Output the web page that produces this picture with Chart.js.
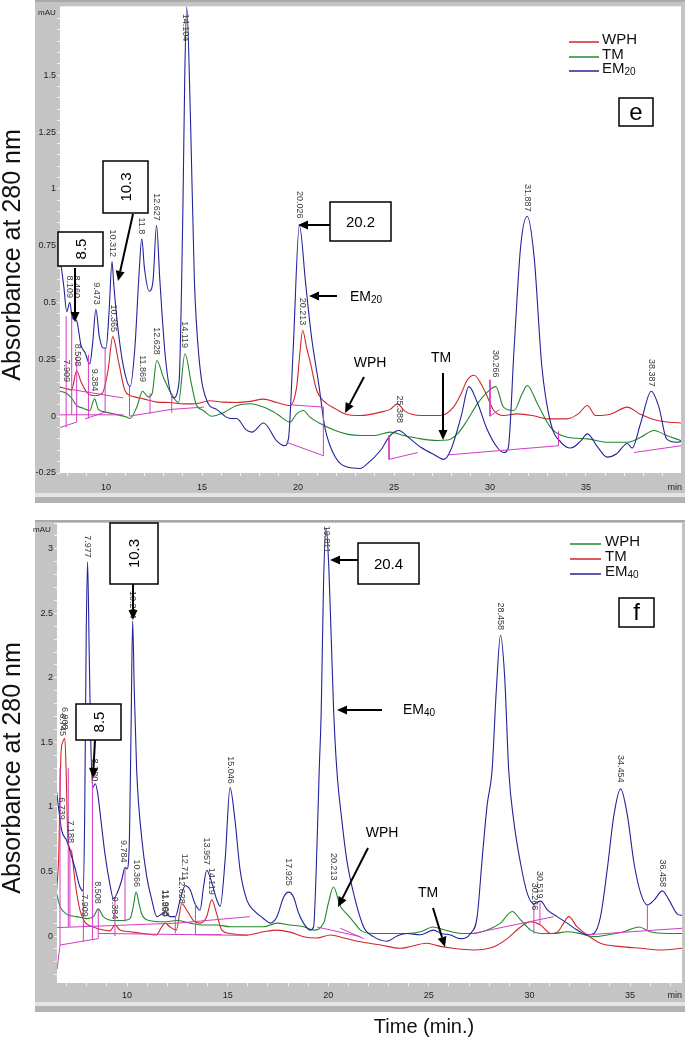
<!DOCTYPE html>
<html>
<head>
<meta charset="utf-8">
<script src="https://cdn.jsdelivr.net/npm/chart.js@4.4.0/dist/chart.umd.min.js"></script>
<style>
  html, body { margin: 0; padding: 0; background: #fff; }
  canvas { position: absolute; left: 0; }
  #cE { top: 0; width: 685px; height: 510px; }
  #cF { top: 510px; width: 685px; height: 537px; }
</style>
</head>
<body>
<canvas id="cE" width="685" height="510"></canvas>
<canvas id="cF" width="685" height="537"></canvas>
<script>
// ---------- panel e ----------
const seriesE = ['WPH', 'TM', 'EM20'];

const wphE_t = [7.6, 8.0, 8.2, 8.47, 8.7, 9.0, 9.43, 9.8, 10.1, 10.35, 10.65, 11.0, 11.5, 11.94, 12.64, 13.3, 14.03, 14.7, 15.4, 16.1, 16.8, 17.5, 18.2, 18.9, 19.58, 19.93, 20.1, 20.24, 20.45, 20.63, 20.97, 21.3, 22.0, 22.45, 23.26, 24.3, 24.8, 25.17, 25.6, 26.4, 27.4, 28.1, 28.5, 28.8, 29.17, 29.7, 30.2, 30.7, 31.4, 32.2, 33.0, 34.0, 34.6, 35.07, 35.5, 36.3, 37.15, 37.8, 38.8, 39.95];
const wphE_v = [0.128, 0.12, 0.115, 0.2, 0.15, 0.105, 0.09, 0.1, 0.2, 0.35, 0.24, 0.11, 0.085, 0.076, 0.062, 0.06, 0.054, 0.055, 0.068, 0.062, 0.06, 0.065, 0.075, 0.06, 0.047, 0.13, 0.28, 0.378, 0.3, 0.24, 0.114, 0.07, 0.03, 0.01, 0.003, 0.018, 0.03, 0.054, 0.02, 0.003, 0.003, 0.04, 0.1, 0.157, 0.18, 0.115, 0.025, 0.003, 0.01, 0.003, -0.012, -0.012, 0.01, 0.047, 0.003, 0.01, 0.04, 0.01, -0.02, -0.03];

const tmE_t = [7.6, 7.95, 8.2, 8.47, 8.8, 9.15, 9.4, 9.6, 10.0, 10.5, 11.07, 11.25, 11.6, 11.9, 12.2, 12.4, 12.64, 12.99, 13.33, 13.77, 14.11, 14.45, 14.7, 15.07, 15.5, 16.1, 16.8, 17.5, 18.2, 18.9, 19.58, 19.93, 20.28, 20.6, 21.1, 21.94, 22.6, 23.3, 24.0, 24.8, 25.5, 26.4, 27.26, 27.8, 28.3, 28.8, 29.34, 29.86, 30.3, 30.7, 31.25, 31.68, 31.94, 32.47, 33.16, 34.03, 35.07, 36.1, 37.15, 37.85, 38.54, 39.2, 39.95];
const tmE_v = [0.11, 0.1, 0.08, 0.047, 0.035, 0.025, 0.076, 0.03, 0.018, 0.008, -0.004, -0.01, 0.04, 0.11, 0.085, 0.1, 0.245, 0.17, 0.11, 0.06, 0.275, 0.14, 0.05, 0.025, 0.0, 0.015, 0.047, 0.055, 0.04, 0.01, -0.026, 0.01, 0.025, -0.003, -0.03, -0.063, -0.08, -0.085, -0.085, -0.07, -0.085, -0.1, -0.107, -0.105, -0.078, -0.02, 0.054, 0.106, 0.13, 0.04, 0.025, 0.1, 0.135, 0.055, -0.05, -0.093, -0.1, -0.115, -0.115, -0.093, -0.063, -0.085, -0.107];

const emE_t = [7.6, 7.8, 7.95, 8.11, 8.25, 8.46, 8.7, 8.9, 9.15, 9.3, 9.47, 9.65, 9.85, 10.0, 10.15, 10.31, 10.4, 10.6, 10.9, 11.25, 11.5, 11.7, 11.86, 12.0, 12.25, 12.45, 12.63, 12.8, 13.1, 13.5, 13.8, 14.0, 14.1, 14.2, 14.4, 14.6, 14.85, 15.24, 15.76, 16.46, 16.8, 17.3, 17.6, 18.2, 18.9, 19.3, 19.5, 19.75, 20.07, 20.4, 20.7, 21.08, 21.4, 21.94, 22.6, 23.23, 23.6, 24.3, 24.8, 25.26, 25.7, 26.4, 27.1, 27.6, 27.95, 28.5, 28.9, 29.34, 29.86, 30.4, 30.73, 30.95, 31.25, 31.6, 31.94, 32.3, 32.7, 33.16, 33.7, 34.2, 34.72, 35.07, 35.6, 36.1, 36.6, 37.15, 37.4, 37.85, 38.4, 38.8, 39.2, 39.75, 39.95];
const emE_v = [0.7, 0.57, 0.46, 0.5, 0.43, 0.42, 0.31, 0.28, 0.23, 0.32, 0.47, 0.35, 0.3, 0.3, 0.45, 0.68, 0.58, 0.4, 0.22, 0.13, 0.3, 0.6, 0.78, 0.65, 0.55, 0.6, 0.84, 0.6, 0.25, 0.08, 0.15, 0.9, 1.5, 1.8, 1.3, 0.6, 0.25, 0.07, 0.03, -0.01, -0.01, -0.06, -0.07, -0.03, -0.11, -0.13, -0.1, 0.3, 0.84, 0.58, 0.35, 0.14, -0.05, -0.18, -0.225, -0.23, -0.21, -0.15, -0.085, -0.063, -0.09, -0.137, -0.17, -0.19, -0.15, 0.0, 0.13, 0.06, -0.06, -0.14, -0.16, -0.14, 0.29, 0.75, 0.88, 0.7, 0.22, -0.03, -0.115, -0.14, -0.11, -0.078, -0.135, -0.18, -0.165, -0.12, -0.14, -0.03, 0.11, 0.04, -0.1, -0.115, -0.11];

// integration baselines (null = break)
const baseE_t = [7.6, 8.47, null, 7.6, 10.9, null, 8.0, 10.9, null, 8.9, 9.95, null, 11.22, 13.4, 15.1, null, 19.41, 21.32, 21.32, null, 19.6, 21.32, null, 24.74, 24.74, 26.23, null, 27.86, 33.57, 33.57, null, 30.0, 30.0, 30.5, null, 37.5, 39.95, null,
  7.92, 7.92, null, 8.21, 8.21, null, 8.47, 8.47, null, 9.08, 9.08, null, 9.95, 9.95, null, 11.22, 11.22, null, 12.29, 12.29, null, 13.42, 13.42];
const baseE_v = [-0.05, -0.026, null, 0.006, 0.006, null, 0.12, 0.08, null, -0.012, 0.018, null, 0.0, 0.03, 0.04, null, -0.115, -0.174, 0.04, null, 0.05, 0.04, null, -0.085, -0.19, -0.16, null, -0.17, -0.13, -0.065, null, 0.16, 0.0, 0.03, null, -0.16, -0.13, null,
  -0.05, 0.44, null, 0.006, 0.44, null, -0.026, 0.26, null, -0.01, 0.27, null, 0.018, 0.3, null, 0.0, 0.13, null, 0.01, 0.1, null, 0.015, 0.1];

const peaksE_txt = ['7.909', '8.109', '8.460', '8.508', '9.384', '9.473', '10.312', '10.365', '11.8', '11.869', '12.627', '12.628', '14.104', '14.119', '20.026', '20.213', '25.388', '30.266', '31.887', '38.387'];
const peaksE_t = [7.92, 8.11, 8.46, 8.53, 9.40, 9.48, 10.32, 10.37, 11.86, 11.9, 12.63, 12.64, 14.12, 14.1, 20.07, 20.24, 25.26, 30.3, 31.94, 38.4];
const peaksE_v = [0.15, 0.52, 0.52, 0.22, 0.11, 0.49, 0.70, 0.37, 0.80, 0.15, 0.86, 0.27, 1.65, 0.30, 0.87, 0.40, -0.03, 0.17, 0.90, 0.13];

const xMajorE = [10, 15, 20, 25, 30, 35];
const yMajorE = [-0.25, 0, 0.25, 0.5, 0.75, 1, 1.25, 1.5];
const yLabelE = ['-0.25', '0', '0.25', '0.5', '0.75', '1', '1.25', '1.5'];

// ---------- panel f ----------
const seriesF = ['WPH', 'TM', 'EM40'];

const wphF_t = [6.5, 6.67, 7.0, 7.5, 8.0, 8.33, 8.57, 8.82, 9.32, 9.8, 10.15, 10.3, 10.45, 10.6, 10.73, 11.1, 11.8, 12.5, 13.13, 13.8, 14.46, 15.12, 15.95, 16.78, 17.45, 18.1, 18.77, 19.27, 19.77, 20.0, 20.26, 20.6, 20.93, 21.26, 21.6, 22.25, 23.0, 23.9, 24.6, 25.2, 25.8, 26.6, 27.2, 27.9, 28.56, 29.14, 29.56, 30.05, 30.55, 31.2, 31.87, 32.5, 33.2, 33.86, 34.7, 35.44, 36.0, 36.85, 37.6];
const wphF_v = [0.33, 0.23, 0.17, 0.15, 0.135, 0.15, 0.21, 0.15, 0.12, 0.12, 0.135, 0.22, 0.34, 0.25, 0.17, 0.12, 0.11, 0.12, 0.1, 0.085, 0.085, 0.072, 0.072, 0.072, 0.1, 0.085, 0.072, 0.046, 0.1, 0.25, 0.38, 0.23, 0.17, 0.11, 0.046, 0.02, 0.02, 0.02, 0.033, 0.07, 0.046, 0.02, 0.02, 0.046, 0.1, 0.19, 0.125, 0.046, 0.02, 0.02, 0.033, 0.02, -0.005, 0.008, 0.033, 0.07, 0.033, 0.02, 0.02];

const tmF_t = [6.5, 6.6, 6.72, 6.8, 6.91, 6.97, 7.05, 7.15, 7.25, 7.41, 7.66, 7.9, 8.33, 8.82, 9.15, 9.4, 9.65, 10.15, 10.8, 11.45, 11.72, 11.89, 12.14, 12.45, 12.72, 12.97, 13.3, 13.63, 13.96, 14.21, 14.46, 14.71, 15.12, 15.95, 16.78, 17.45, 18.1, 18.77, 19.44, 20.1, 20.77, 21.6, 22.6, 23.58, 24.9, 25.57, 26.2, 27.2, 28.2, 28.9, 29.56, 30.05, 30.55, 31.05, 31.38, 31.7, 31.95, 32.37, 32.87, 33.53, 34.53, 35.53, 36.53, 37.6];
const tmF_v = [0.35, 0.6, 1.42, 1.5, 1.53, 1.3, 0.8, 0.68, 0.65, 0.43, 0.2, 0.11, 0.07, 0.046, 0.04, 0.085, 0.046, 0.033, 0.02, 0.008, 0.07, 0.1, 0.07, 0.046, 0.25, 0.2, 0.12, 0.1, 0.15, 0.28, 0.17, 0.046, 0.02, 0.008, 0.033, 0.046, 0.03, -0.005, -0.015, 0.008, -0.015, -0.045, -0.07, -0.095, -0.056, -0.08, -0.095, -0.108, -0.085, -0.02, 0.07, 0.11, 0.085, 0.02, 0.03, 0.1, 0.15, 0.07, 0.008, -0.056, -0.082, -0.095, -0.108, -0.095];

const emF_t = [6.5, 6.75, 7.0, 7.16, 7.41, 7.66, 7.83, 7.9, 7.97, 8.04, 8.12, 8.2, 8.3, 8.42, 8.55, 8.65, 8.9, 9.15, 9.32, 9.5, 9.73, 9.9, 10.0, 10.12, 10.2, 10.28, 10.36, 10.48, 10.73, 10.98, 11.23, 11.48, 11.72, 11.89, 12.14, 12.4, 12.64, 12.89, 13.13, 13.38, 13.63, 13.8, 13.96, 14.2, 14.46, 14.63, 14.88, 15.12, 15.37, 15.62, 15.95, 16.29, 16.78, 17.11, 17.45, 17.78, 18.03, 18.28, 18.52, 18.77, 19.1, 19.27, 19.4, 19.55, 19.65, 19.77, 19.9, 20.03, 20.15, 20.27, 20.43, 20.68, 20.93, 21.26, 21.76, 22.25, 22.92, 23.42, 23.9, 24.57, 25.24, 25.6, 26.07, 26.57, 27.07, 27.4, 27.65, 27.9, 28.14, 28.35, 28.56, 28.77, 28.97, 29.22, 29.56, 29.89, 30.22, 30.55, 30.9, 31.38, 31.87, 32.37, 32.87, 33.2, 33.53, 33.86, 34.2, 34.53, 34.86, 35.2, 35.53, 35.86, 36.2, 36.6, 36.93, 37.35, 37.6];
const emF_v = [1.12, 0.82, 0.74, 0.66, 0.53, 0.38, 0.35, 1.0, 2.3, 2.9, 2.2, 1.5, 1.15, 1.18, 1.1, 0.97, 0.64, 0.4, 0.29, 0.33, 0.43, 0.53, 0.52, 0.76, 1.6, 2.44, 1.9, 1.28, 0.76, 0.46, 0.28, 0.15, 0.17, 0.19, 0.15, 0.15, 0.28, 0.39, 0.36, 0.25, 0.2, 0.38, 0.51, 0.42, 0.28, 0.23, 0.6, 1.15, 0.89, 0.51, 0.28, 0.2, 0.136, 0.1, 0.15, 0.3, 0.34, 0.3, 0.18, 0.1, 0.046, 0.07, 0.5, 1.28, 1.74, 2.76, 3.16, 2.85, 2.3, 1.74, 1.28, 0.89, 0.58, 0.33, 0.07, -0.005, -0.04, 0.0, 0.02, 0.01, 0.046, 0.02, 0.008, -0.02, 0.02, 0.15, 0.6, 1.02, 1.28, 1.9, 2.33, 2.0, 1.28, 0.89, 0.56, 0.33, 0.25, 0.27, 0.2, 0.15, 0.1, 0.046, 0.01, 0.02, 0.15, 0.51, 0.94, 1.14, 0.94, 0.56, 0.33, 0.24, 0.28, 0.35, 0.28, 0.17, 0.16];

const baseF_t = [6.52, 6.67, 8.57, null, 6.52, 12.5, 16.1, null, 8.57, 16.0, null, 13.4, 14.7, null, 19.44, 21.6, null, 20.6, 21.76, null, 27.2, 31.2, null, 32.9, 37.58, null,
  6.67, 6.67, null, 7.08, 7.08, null, 7.16, 7.16, null, 7.83, 7.83, null, 8.28, 8.28, null, 8.57, 8.57, null, 9.4, 9.4, null, 9.9, 9.9, null, 12.4, 12.4, null, 13.4, 13.4, null, 30.22, 30.22, null, 30.52, 30.52, null, 35.86, 35.86];
const baseF_v = [-0.26, -0.07, -0.02, null, 0.065, 0.1, 0.15, null, 0.02, 0.005, null, 0.01, 0.01, null, 0.07, -0.005, null, 0.06, -0.02, null, 0.02, 0.15, null, 0.01, 0.06, null,
  -0.07, 1.3, null, 0.07, 1.3, null, 0.07, 0.66, null, -0.04, 0.35, null, -0.03, 1.25, null, -0.02, 0.21, null, 0.0, 0.3, null, 0.11, 0.53, null, 0.02, 0.15, null, 0.01, 0.25, null, 0.02, 0.25, null, 0.09, 0.26, null, 0.05, 0.24];

const peaksF_txt = ['6.739', '6.745', '6.908', '7.188', '7.909', '7.977', '8.380', '8.508', '9.384', '9.784', '10.284', '10.366', '11.869', '11.903', '12.628', '12.711', '13.957', '14.119', '15.046', '17.925', '19.811', '20.213', '28.458', '30.266', '30.519', '34.454', '36.458'];
const peaksF_t = [6.74, 6.78, 6.91, 7.19, 7.88, 8.03, 8.40, 8.55, 9.40, 9.80, 10.28, 10.45, 11.85, 11.92, 12.70, 12.85, 13.96, 14.2, 15.12, 18.03, 19.92, 20.26, 28.56, 30.25, 30.5, 34.53, 36.6];
const peaksF_v = [0.9, 1.55, 1.6, 0.72, 0.15, 2.93, 1.2, 0.25, 0.13, 0.57, 2.46, 0.38, 0.15, 0.15, 0.25, 0.43, 0.55, 0.32, 1.18, 0.39, 2.97, 0.43, 2.37, 0.2, 0.29, 1.19, 0.38];

const xMajorF = [10, 15, 20, 25, 30, 35];
const yMajorF = [0, 0.5, 1, 1.5, 2, 2.5, 3];
const yLabelF = ['0', '0.5', '1', '1.5', '2', '2.5', '3'];

// ---------- drawing helpers ----------
const FONT = '"Liberation Sans", Arial, sans-serif';
const RED = '#d0262a', GREEN = '#21882a', BLUE = '#23239a', MAGENTA = '#d23cc4';

const pts = (ts, vs) => ts.map((t, i) => ({ x: t, y: vs[i] }));
const gapPts = (ts, vs) => ts.map((t, i) => t === null ? { x: ts[i - 1], y: null } : { x: t, y: vs[i] });

function range(a, b, step) {
  const out = [];
  for (let i = Math.round(a / step); i <= Math.round(b / step); i++) out.push(Math.round(i * step * 1000) / 1000);
  return out;
}

function arrow(ctx, x1, y1, x2, y2) {
  const ang = Math.atan2(y2 - y1, x2 - x1), L = 10, W = 4.5;
  const bx = x2 - L * Math.cos(ang), by = y2 - L * Math.sin(ang);
  ctx.strokeStyle = '#000'; ctx.fillStyle = '#000'; ctx.lineWidth = 2;
  ctx.beginPath(); ctx.moveTo(x1, y1); ctx.lineTo(bx, by); ctx.stroke();
  ctx.beginPath();
  ctx.moveTo(x2, y2);
  ctx.lineTo(bx + W * Math.sin(ang), by - W * Math.cos(ang));
  ctx.lineTo(bx - W * Math.sin(ang), by + W * Math.cos(ang));
  ctx.closePath(); ctx.fill();
}

// text with trailing digits drawn as subscript (EM20, EM40)
function subText(ctx, txt, x, y, size) {
  const m = txt.match(/^(\D+)(\d+)$/);
  ctx.textAlign = 'left'; ctx.textBaseline = 'middle';
  ctx.font = size + 'px ' + FONT;
  if (!m) { ctx.fillText(txt, x, y); return; }
  ctx.fillText(m[1], x, y);
  const w = ctx.measureText(m[1]).width;
  ctx.font = Math.round(size * 0.68) + 'px ' + FONT;
  ctx.fillText(m[2], x + w, y + size * 0.22);
}

function box(ctx, b) {
  ctx.fillStyle = '#fff'; ctx.fillRect(b.x, b.y, b.w, b.h);
  ctx.strokeStyle = '#000'; ctx.lineWidth = 1.5;
  ctx.strokeRect(b.x, b.y, b.w, b.h);
  ctx.fillStyle = '#000';
  ctx.font = (b.size || 15) + 'px ' + FONT;
  ctx.textAlign = 'center'; ctx.textBaseline = 'middle';
  ctx.save();
  ctx.translate(b.x + b.w / 2, b.y + b.h / 2);
  if (b.rot) ctx.rotate(-Math.PI / 2);
  ctx.fillText(b.text, 0, 1);
  ctx.restore();
}

// per-panel decoration (canvas pixel coordinates)
const deco = {
  cE: {
    frameTop: 0, frameBottom: 493,
    colors: [RED, GREEN, BLUE], names: seriesE,
    legend: { x1: 569, x2: 599, tx: 602, ys: [42, 57, 71] },
    peaks: [peaksE_txt, peaksE_t, peaksE_v],
    boxes: [
      { x: 58, y: 232, w: 45, h: 34, text: '8.5', rot: true },
      { x: 103, y: 161, w: 45, h: 52, text: '10.3', rot: true },
      { x: 330, y: 202, w: 61, h: 39, text: '20.2' },
      { x: 619, y: 98, w: 34, h: 28, text: 'e', size: 24 }
    ],
    arrows: [[75, 268, 75, 322], [133, 214, 118, 281], [330, 225, 298, 225], [337, 296, 309, 296], [364, 377, 345, 413], [443, 373, 443, 440]],
    notes: [{ t: 'EM20', x: 350, y: 297, size: 14 }, { t: 'WPH', x: 370, y: 363, size: 14, c: true }, { t: 'TM', x: 441, y: 358, size: 14, c: true }],
    mau: [47, 13], min: [682, 488],
    ytitle: 255
  },
  cF: {
    frameTop: 10, frameBottom: 492,
    colors: [GREEN, RED, BLUE], names: seriesF,
    legend: { x1: 570, x2: 601, tx: 605, ys: [34, 49, 64] },
    peaks: [peaksF_txt, peaksF_t, peaksF_v],
    boxes: [
      { x: 110, y: 13, w: 48, h: 61, text: '10.3', rot: true },
      { x: 76, y: 194, w: 45, h: 36, text: '8.5', rot: true },
      { x: 358, y: 33, w: 61, h: 41, text: '20.4' },
      { x: 619, y: 88, w: 35, h: 29, text: 'f', size: 24 }
    ],
    arrows: [[133, 74, 133, 110], [95, 230, 93, 268], [358, 50, 330, 50], [382, 200, 337, 200], [368, 338, 338, 397], [433, 398, 445, 437]],
    notes: [{ t: 'EM40', x: 403, y: 200, size: 14 }, { t: 'WPH', x: 382, y: 323, size: 14, c: true }, { t: 'TM', x: 428, y: 383, size: 14, c: true }],
    mau: [42, 20], min: [682, 486],
    ytitle: 258, xtitle: [424, 517]
  }
};

const panelPlugin = {
  id: 'panel',
  beforeDraw(chart) {
    const d = deco[chart.canvas.id], ctx = chart.ctx, a = chart.chartArea;
    ctx.save();
    ctx.fillStyle = '#fff'; ctx.fillRect(0, 0, chart.width, chart.height);
    ctx.fillStyle = '#c4c4c4'; ctx.fillRect(35, d.frameTop, 650, d.frameBottom - d.frameTop);
    ctx.fillStyle = '#a9a9a9'; ctx.fillRect(35, d.frameTop, 650, 2);
    ctx.fillStyle = '#e4e4e4'; ctx.fillRect(35, d.frameBottom, 650, 4);
    ctx.fillStyle = '#b3b3b3'; ctx.fillRect(35, d.frameBottom + 4, 650, 6);
    ctx.fillStyle = '#fff'; ctx.fillRect(a.left, a.top, a.right - a.left, a.bottom - a.top);
    ctx.restore();
  },
  afterDatasetsDraw(chart) {
    const d = deco[chart.canvas.id], ctx = chart.ctx;
    const xs = chart.scales.x, ys = chart.scales.y;
    ctx.save();
    // peak retention-time labels
    ctx.fillStyle = '#3a3a3a';
    ctx.font = '9px ' + FONT;
    const [txt, tt, vv] = d.peaks;
    txt.forEach((s, i) => {
      ctx.save();
      ctx.translate(xs.getPixelForValue(tt[i]), ys.getPixelForValue(vv[i]));
      ctx.rotate(Math.PI / 2);
      ctx.textAlign = 'right'; ctx.textBaseline = 'middle';
      ctx.fillText(s, 0, 0);
      ctx.restore();
    });
    // axis unit labels
    ctx.fillStyle = '#222'; ctx.font = '8px ' + FONT;
    ctx.textAlign = 'center'; ctx.textBaseline = 'middle';
    ctx.fillText('mAU', d.mau[0], d.mau[1]);
    ctx.font = '9px ' + FONT; ctx.textAlign = 'right';
    ctx.fillText('min', d.min[0], d.min[1]);
    // legend
    d.names.forEach((n, i) => {
      const y = d.legend.ys[i];
      ctx.strokeStyle = d.colors[i]; ctx.lineWidth = 1.5;
      ctx.beginPath(); ctx.moveTo(d.legend.x1, y); ctx.lineTo(d.legend.x2, y); ctx.stroke();
      ctx.fillStyle = '#111';
      subText(ctx, n, d.legend.tx, y - 2, 15);
    });
    // boxes, arrows, notes
    d.boxes.forEach(b => box(ctx, b));
    d.arrows.forEach(a => arrow(ctx, a[0], a[1], a[2], a[3]));
    ctx.fillStyle = '#000';
    d.notes.forEach(n => {
      if (n.c) {
        ctx.font = n.size + 'px ' + FONT; ctx.textAlign = 'center'; ctx.textBaseline = 'middle';
        ctx.fillText(n.t, n.x, n.y);
      } else subText(ctx, n.t, n.x, n.y, n.size);
    });
    // axis titles
    ctx.fillStyle = '#111';
    ctx.textAlign = 'center'; ctx.textBaseline = 'middle';
    ctx.font = '25px ' + FONT;
    ctx.save(); ctx.translate(13, d.ytitle); ctx.rotate(-Math.PI / 2);
    ctx.fillText('Absorbance at 280 nm', 0, 0);
    ctx.restore();
    ctx.font = '20px ' + FONT;
    if (d.xtitle) ctx.fillText('Time (min.)', d.xtitle[0], d.xtitle[1]);
    ctx.restore();
  }
};

function lineDs(label, data, color, order) {
  return { label, data, borderColor: color, borderWidth: 1.1, pointRadius: 0,
           cubicInterpolationMode: 'monotone', order };
}

function makeChart(id, cfg) {
  const near = (list, v) => list.findIndex(m => Math.abs(m - v) < 1e-6);
  return new Chart(document.getElementById(id), {
    type: 'line',
    data: { datasets: cfg.datasets },
    options: {
      responsive: false, animation: false, devicePixelRatio: 1, events: [],
      layout: { padding: cfg.padding },
      plugins: { legend: { display: false }, tooltip: { enabled: false } },
      scales: {
        x: {
          type: 'linear', min: cfg.xmin, max: cfg.xmax,
          afterBuildTicks: s => { s.ticks = cfg.xticks.map(v => ({ value: v })); },
          afterFit: s => { s.height = 20; },
          ticks: { autoSkip: false, maxRotation: 0, padding: cfg.xpad, color: '#222', font: { size: 9, family: FONT },
                   callback: v => near(cfg.xmajor, v) >= 0 ? String(v) : '' },
          grid: { drawOnChartArea: false, tickLength: 3, tickColor: '#f2f2f2' },
          border: { display: false }
        },
        y: {
          type: 'linear', min: cfg.ymin, max: cfg.ymax,
          afterBuildTicks: s => { s.ticks = cfg.yticks.map(v => ({ value: v })); },
          afterFit: s => { s.width = cfg.ywidth; },
          ticks: { autoSkip: false, padding: 1, color: '#222', font: { size: 9, family: FONT },
                   callback: v => { const k = near(cfg.ymajor, v); return k >= 0 ? cfg.ylabels[k] : ''; } },
          grid: { drawOnChartArea: false, tickLength: 3, tickColor: '#f2f2f2' },
          border: { display: false }
        }
      }
    },
    plugins: [panelPlugin]
  });
}

makeChart('cE', {
  datasets: [
    lineDs(seriesE[0], pts(wphE_t, wphE_v), RED, 3),
    lineDs(seriesE[1], pts(tmE_t, tmE_v), GREEN, 2),
    lineDs(seriesE[2], pts(emE_t, emE_v), BLUE, 1),
    { label: 'baseline', data: gapPts(baseE_t, baseE_v), borderColor: MAGENTA, borderWidth: 1, pointRadius: 0, spanGaps: false, order: 0 }
  ],
  padding: { left: 35, top: 5, right: 4, bottom: 17 },
  xmin: 7.6, xmax: 39.95, xticks: range(8, 39, 1), xmajor: xMajorE, xpad: 6,
  ymin: -0.25, ymax: 1.803, yticks: range(-0.25, 1.75, 0.05), ymajor: yMajorE, ylabels: yLabelE, ywidth: 25
});

makeChart('cF', {
  datasets: [
    lineDs(seriesF[0], pts(wphF_t, wphF_v), GREEN, 2),
    lineDs(seriesF[1], pts(tmF_t, tmF_v), RED, 3),
    lineDs(seriesF[2], pts(emF_t, emF_v), BLUE, 1),
    { label: 'baseline', data: gapPts(baseF_t, baseF_v), borderColor: MAGENTA, borderWidth: 1, pointRadius: 0, spanGaps: false, order: 0 }
  ],
  padding: { left: 35, top: 13, right: 3, bottom: 44 },
  xmin: 6.52, xmax: 37.58, xticks: range(7, 37, 1), xmajor: xMajorF, xpad: 4,
  ymin: -0.364, ymax: 3.2, yticks: range(-0.3, 3.2, 0.1), ymajor: yMajorF, ylabels: yLabelF, ywidth: 22
});
</script>
</body>
</html>
